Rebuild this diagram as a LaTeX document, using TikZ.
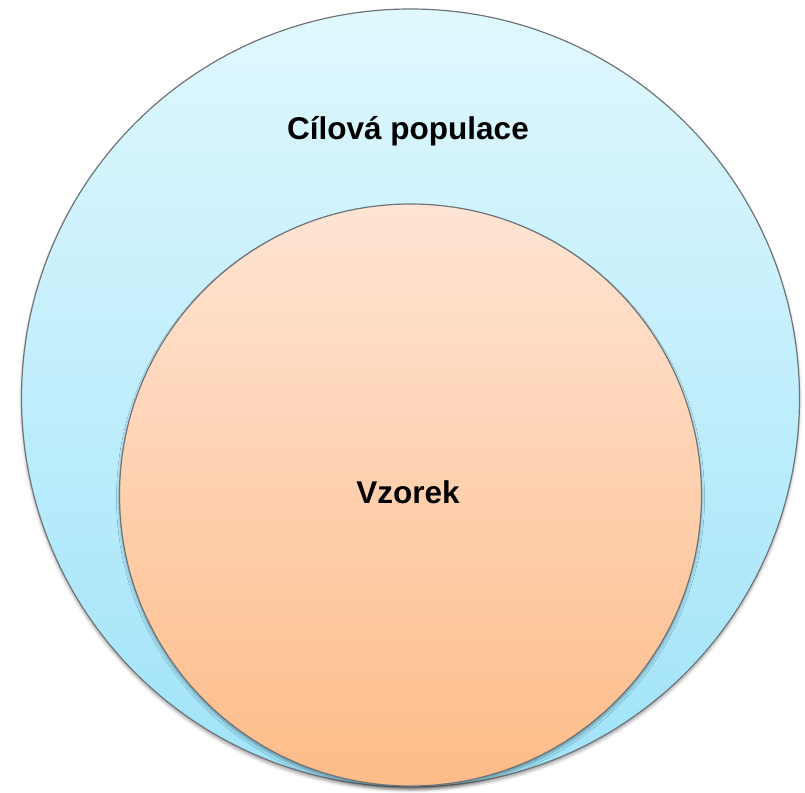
\documentclass[tikz,border=0pt]{standalone}
\usepackage{fontspec}
\setmainfont{Liberation Sans}
\usetikzlibrary{shadows.blur}
\definecolor{outerTop}{HTML}{E0F8FE}
\definecolor{outerBot}{HTML}{9FE3F9}
\definecolor{innerTop}{HTML}{FFE4D4}
\definecolor{innerBot}{HTML}{FDBC88}
\definecolor{rim}{HTML}{6E7478}
\tikzset{
  setcircle/.style={circle, draw=rim, line width=1.2pt, inner sep=0pt,
    blur shadow={shadow xshift=0pt, shadow yshift=-3pt, shadow blur radius=3pt, shadow opacity=35}},
  lbl/.style={font=\fontsize{31.5}{36}\selectfont\bfseries, anchor=base, inner sep=0pt}
}
\begin{document}
\begin{tikzpicture}[x=1pt,y=-1pt]
\useasboundingbox (0,0) rectangle (805,792);
\node[setcircle, minimum size=778pt, top color=outerTop, bottom color=outerBot] (outer) at (410.5,398) {};
\node[setcircle, minimum size=582pt, top color=innerTop, bottom color=innerBot] (inner) at (410.5,495) {};
\node[lbl] (pop) at (408,139) {Cílová populace};
\node[lbl] (vz) at (408,503) {Vzorek};
\end{tikzpicture}
\end{document}
